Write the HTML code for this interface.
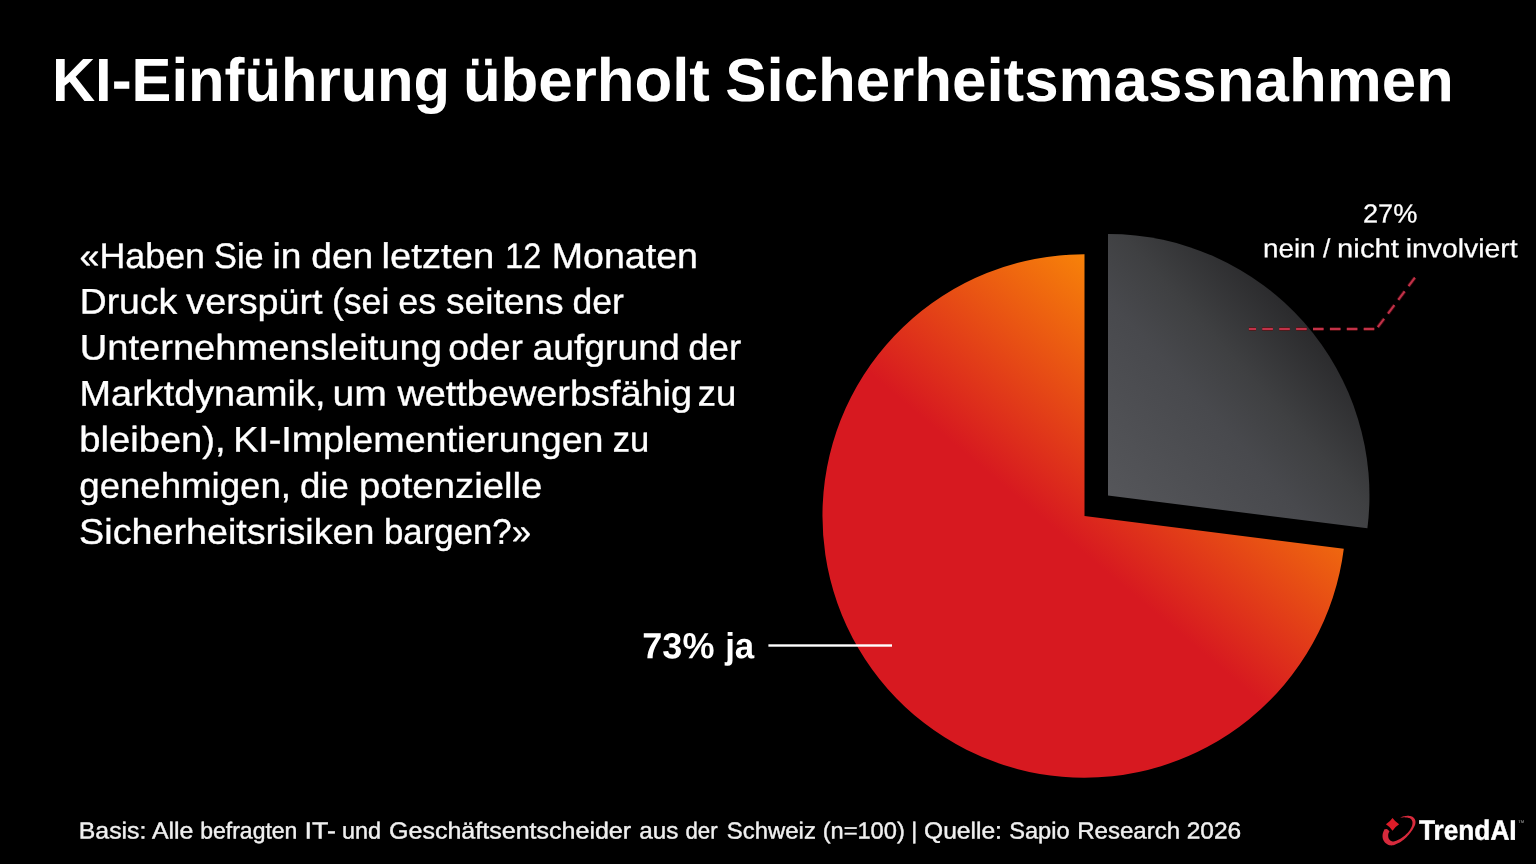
<!DOCTYPE html>
<html lang="de">
<head>
<meta charset="utf-8">
<title>KI-Einführung überholt Sicherheitsmassnahmen</title>
<style>
  html, body { margin: 0; padding: 0; background: #000; }
  body { width: 1536px; height: 864px; overflow: hidden; position: relative;
         font-family: "Liberation Sans", sans-serif; color: #fff; }
  svg { position: absolute; left: 0; top: 0; display: block; will-change: transform; }
  text { font-family: "Liberation Sans", sans-serif; fill: #fff; text-rendering: geometricPrecision; }
  .title { font-weight: bold; font-size: 61px; }
  .q { font-size: 35.5px; stroke: #fff; stroke-width: 0.35px; }
  .lbl { font-size: 26.2px; stroke: #fff; stroke-width: 0.25px; }
  .yes { font-weight: bold; font-size: 36.3px; }
  .foot { font-size: 23.2px; fill: #f0f0f0; stroke: #f0f0f0; stroke-width: 0.4px; }
  .logo { font-weight: bold; font-size: 28px; stroke: #fff; stroke-width: 0.5px; }
</style>
</head>
<body>
<svg width="1536" height="864" viewBox="0 0 1536 864">
  <defs>
    <linearGradient id="gRed" gradientUnits="userSpaceOnUse" x1="1065.9" y1="538.2" x2="1213.1" y2="362.8">
      <stop offset="0" stop-color="#d71920"/>
      <stop offset="1" stop-color="#f78209"/>
    </linearGradient>
    <linearGradient id="gGray" gradientUnits="userSpaceOnUse" x1="1108" y1="495" x2="1303.4" y2="319">
      <stop offset="0" stop-color="#55565a"/>
      <stop offset="0.5" stop-color="#48494d"/>
      <stop offset="0.7" stop-color="#3f4042"/>
      <stop offset="1" stop-color="#2a2a2c"/>
    </linearGradient>
    <filter id="soft" x="-5%" y="-20%" width="110%" height="140%"><feGaussianBlur stdDeviation="0.45"/></filter>
  </defs>
  <rect width="1536" height="864" fill="#000"/>

  <!-- red slice: 73% (from 97.2deg clockwise round to 360deg) -->
  <path d="M1084.5 516.0 L1343.8 548.8 A261.7 261.7 0 1 1 1084.5 254.3 Z" fill="url(#gRed)"/>
  <!-- gray slice: 27% -->
  <path d="M1108 495.5 L1108 234 A261.5 261.5 0 0 1 1367.4 528.3 Z" fill="url(#gGray)"/>

  <!-- 73% leader -->
  <rect x="768.4" y="644.3" width="123.6" height="2.4" fill="#fff"/>
  <!-- 27% dashed leader -->
  <g fill="none" filter="url(#soft)">
    <path d="M1374.3 329 L1248.9 329" stroke="#5a0d16" stroke-width="3.8" stroke-dasharray="10.6 6.3" opacity="0.7"/>
    <path d="M1414.9 277.7 L1376.5 328.9" stroke="#5a0d16" stroke-width="3.8" stroke-dasharray="10.6 6.5" opacity="0.7"/>
    <path d="M1374.3 329 L1248.9 329" stroke="#c2324a" stroke-width="2" stroke-dasharray="10.6 6.3"/>
    <path d="M1414.9 277.7 L1376.5 328.9" stroke="#c2324a" stroke-width="2" stroke-dasharray="10.6 6.5"/>
  </g>

  <!-- title, question, labels, footer (word-positioned) -->
  <text class="title" x="51.99" y="100.90" transform="rotate(0.03 51.99 100.90)" textLength="398.11" lengthAdjust="spacingAndGlyphs">KI-Einführung</text>
  <text class="title" x="462.92" y="100.90" transform="rotate(0.03 462.92 100.90)" textLength="246.98" lengthAdjust="spacingAndGlyphs">überholt</text>
  <text class="title" x="725.23" y="100.90" transform="rotate(0.03 725.23 100.90)" textLength="728.58" lengthAdjust="spacingAndGlyphs">Sicherheitsmassnahmen</text>
  <text class="q" x="79.60" y="268.00" transform="rotate(0.03 79.60 268.00)" textLength="125.44" lengthAdjust="spacingAndGlyphs">«Haben</text>
  <text class="q" x="214.00" y="268.00" transform="rotate(0.03 214.00 268.00)" textLength="49.63" lengthAdjust="spacingAndGlyphs">Sie</text>
  <text class="q" x="272.60" y="268.00" transform="rotate(0.03 272.60 268.00)" textLength="28.94" lengthAdjust="spacingAndGlyphs">in</text>
  <text class="q" x="311.36" y="268.00" transform="rotate(0.03 311.36 268.00)" textLength="61.77" lengthAdjust="spacingAndGlyphs">den</text>
  <text class="q" x="381.62" y="268.00" transform="rotate(0.03 381.62 268.00)" textLength="112.64" lengthAdjust="spacingAndGlyphs">letzten</text>
  <text class="q" x="505.33" y="268.00" transform="rotate(0.03 505.33 268.00)" textLength="35.99" lengthAdjust="spacingAndGlyphs">12</text>
  <text class="q" x="551.69" y="268.00" transform="rotate(0.03 551.69 268.00)" textLength="146.25" lengthAdjust="spacingAndGlyphs">Monaten</text>
  <text class="q" x="79.77" y="313.60" transform="rotate(0.03 79.77 313.60)" textLength="97.35" lengthAdjust="spacingAndGlyphs">Druck</text>
  <text class="q" x="186.37" y="313.60" transform="rotate(0.03 186.37 313.60)" textLength="136.09" lengthAdjust="spacingAndGlyphs">verspürt</text>
  <text class="q" x="332.00" y="313.60" transform="rotate(0.03 332.00 313.60)" textLength="57.28" lengthAdjust="spacingAndGlyphs">(sei</text>
  <text class="q" x="398.29" y="313.60" transform="rotate(0.03 398.29 313.60)" textLength="37.81" lengthAdjust="spacingAndGlyphs">es</text>
  <text class="q" x="446.04" y="313.60" transform="rotate(0.03 446.04 313.60)" textLength="117.51" lengthAdjust="spacingAndGlyphs">seitens</text>
  <text class="q" x="572.45" y="313.60" transform="rotate(0.03 572.45 313.60)" textLength="51.37" lengthAdjust="spacingAndGlyphs">der</text>
  <text class="q" x="79.80" y="359.40" transform="rotate(0.03 79.80 359.40)" textLength="362.02" lengthAdjust="spacingAndGlyphs">Unternehmensleitung</text>
  <text class="q" x="448.33" y="359.40" transform="rotate(0.03 448.33 359.40)" textLength="74.51" lengthAdjust="spacingAndGlyphs">oder</text>
  <text class="q" x="532.58" y="359.40" transform="rotate(0.03 532.58 359.40)" textLength="147.10" lengthAdjust="spacingAndGlyphs">aufgrund</text>
  <text class="q" x="688.19" y="359.40" transform="rotate(0.03 688.19 359.40)" textLength="53.09" lengthAdjust="spacingAndGlyphs">der</text>
  <text class="q" x="79.63" y="405.40" transform="rotate(0.03 79.63 405.40)" textLength="245.81" lengthAdjust="spacingAndGlyphs">Marktdynamik,</text>
  <text class="q" x="332.48" y="405.40" transform="rotate(0.03 332.48 405.40)" textLength="54.35" lengthAdjust="spacingAndGlyphs">um</text>
  <text class="q" x="397.48" y="405.40" transform="rotate(0.03 397.48 405.40)" textLength="294.53" lengthAdjust="spacingAndGlyphs">wettbewerbsfähig</text>
  <text class="q" x="697.69" y="405.40" transform="rotate(0.03 697.69 405.40)" textLength="38.58" lengthAdjust="spacingAndGlyphs">zu</text>
  <text class="q" x="79.30" y="451.60" transform="rotate(0.03 79.30 451.60)" textLength="146.36" lengthAdjust="spacingAndGlyphs">bleiben),</text>
  <text class="q" x="233.15" y="451.60" transform="rotate(0.03 233.15 451.60)" textLength="370.41" lengthAdjust="spacingAndGlyphs">KI-Implementierungen</text>
  <text class="q" x="612.83" y="451.60" transform="rotate(0.03 612.83 451.60)" textLength="36.52" lengthAdjust="spacingAndGlyphs">zu</text>
  <text class="q" x="79.28" y="497.70" transform="rotate(0.03 79.28 497.70)" textLength="211.71" lengthAdjust="spacingAndGlyphs">genehmigen,</text>
  <text class="q" x="300.00" y="497.70" transform="rotate(0.03 300.00 497.70)" textLength="48.88" lengthAdjust="spacingAndGlyphs">die</text>
  <text class="q" x="359.00" y="497.70" transform="rotate(0.03 359.00 497.70)" textLength="183.36" lengthAdjust="spacingAndGlyphs">potenzielle</text>
  <text class="q" x="79.11" y="543.70" transform="rotate(0.03 79.11 543.70)" textLength="295.42" lengthAdjust="spacingAndGlyphs">Sicherheitsrisiken</text>
  <text class="q" x="384.00" y="543.70" transform="rotate(0.03 384.00 543.70)" textLength="147.06" lengthAdjust="spacingAndGlyphs">bargen?»</text>
  <text class="lbl" x="1362.96" y="222.60" transform="rotate(0.03 1362.96 222.60)" textLength="54.41" lengthAdjust="spacingAndGlyphs">27%</text>
  <text class="lbl" x="1262.95" y="257.20" transform="rotate(0.03 1262.95 257.20)" textLength="52.64" lengthAdjust="spacingAndGlyphs">nein</text>
  <text class="lbl" x="1323.06" y="257.20" transform="rotate(0.03 1323.06 257.20)">/</text>
  <text class="lbl" x="1337.08" y="257.20" transform="rotate(0.03 1337.08 257.20)" textLength="61.90" lengthAdjust="spacingAndGlyphs">nicht</text>
  <text class="lbl" x="1405.67" y="257.20" transform="rotate(0.03 1405.67 257.20)" textLength="111.96" lengthAdjust="spacingAndGlyphs">involviert</text>
  <text class="yes" x="642.34" y="658.20" transform="rotate(0.03 642.34 658.20)" textLength="72.10" lengthAdjust="spacingAndGlyphs">73%</text>
  <text class="yes" x="725.17" y="658.20" transform="rotate(0.03 725.17 658.20)" textLength="29.08" lengthAdjust="spacingAndGlyphs">ja</text>
  <text class="foot" x="78.81" y="838.40" transform="rotate(0.03 78.81 838.40)" textLength="67.64" lengthAdjust="spacingAndGlyphs">Basis:</text>
  <text class="foot" x="151.93" y="838.40" transform="rotate(0.03 151.93 838.40)" textLength="41.46" lengthAdjust="spacingAndGlyphs">Alle</text>
  <text class="foot" x="200.27" y="838.40" transform="rotate(0.03 200.27 838.40)" textLength="97.13" lengthAdjust="spacingAndGlyphs">befragten</text>
  <text class="foot" x="304.58" y="838.40" transform="rotate(0.03 304.58 838.40)" textLength="31.29" lengthAdjust="spacingAndGlyphs">IT-</text>
  <text class="foot" x="342.00" y="838.40" transform="rotate(0.03 342.00 838.40)" textLength="39.11" lengthAdjust="spacingAndGlyphs">und</text>
  <text class="foot" x="389.00" y="838.40" transform="rotate(0.03 389.00 838.40)" textLength="242.15" lengthAdjust="spacingAndGlyphs">Geschäftsentscheider</text>
  <text class="foot" x="639.18" y="838.40" transform="rotate(0.03 639.18 838.40)" textLength="39.09" lengthAdjust="spacingAndGlyphs">aus</text>
  <text class="foot" x="685.52" y="838.40" transform="rotate(0.03 685.52 838.40)" textLength="32.09" lengthAdjust="spacingAndGlyphs">der</text>
  <text class="foot" x="726.87" y="838.40" transform="rotate(0.03 726.87 838.40)" textLength="89.02" lengthAdjust="spacingAndGlyphs">Schweiz</text>
  <text class="foot" x="822.66" y="838.40" transform="rotate(0.03 822.66 838.40)" textLength="82.13" lengthAdjust="spacingAndGlyphs">(n=100)</text>
  <text class="foot" x="911.24" y="838.40" transform="rotate(0.03 911.24 838.40)">|</text>
  <text class="foot" x="924.09" y="838.40" transform="rotate(0.03 924.09 838.40)" textLength="77.82" lengthAdjust="spacingAndGlyphs">Quelle:</text>
  <text class="foot" x="1009.20" y="838.40" transform="rotate(0.03 1009.20 838.40)" textLength="60.44" lengthAdjust="spacingAndGlyphs">Sapio</text>
  <text class="foot" x="1077.18" y="838.40" transform="rotate(0.03 1077.18 838.40)" textLength="103.00" lengthAdjust="spacingAndGlyphs">Research</text>
  <text class="foot" x="1186.69" y="838.40" transform="rotate(0.03 1186.69 838.40)" textLength="54.54" lengthAdjust="spacingAndGlyphs">2026</text>

  <!-- logo -->
  <g id="logo">
    <path d="M1384.40 829.37 L1384.18 829.93 L1383.85 830.69 L1383.47 831.60 L1383.11 832.58 L1382.80 833.56 L1382.62 834.46 L1382.54 835.32 L1382.52 836.20 L1382.57 837.07 L1382.68 837.93 L1382.87 838.76 L1383.12 839.55 L1383.46 840.32 L1383.88 841.07 L1384.37 841.79 L1384.92 842.47 L1385.52 843.09 L1386.18 843.62 L1386.90 844.09 L1387.69 844.52 L1388.53 844.88 L1389.42 845.16 L1390.34 845.34 L1391.27 845.40 L1392.21 845.35 L1393.19 845.18 L1394.19 844.91 L1395.23 844.56 L1396.29 844.12 L1397.37 843.62 L1398.51 843.05 L1399.71 842.38 L1400.94 841.64 L1402.16 840.82 L1403.36 839.96 L1404.50 839.04 L1405.60 838.06 L1406.69 836.99 L1407.74 835.86 L1408.76 834.71 L1409.72 833.55 L1410.61 832.43 L1411.44 831.30 L1412.24 830.15 L1412.98 828.99 L1413.64 827.87 L1414.21 826.80 L1414.68 825.81 L1415.02 824.92 L1415.27 824.10 L1415.42 823.33 L1415.50 822.61 L1415.50 821.91 L1415.44 821.23 L1415.32 820.56 L1415.12 819.90 L1414.85 819.28 L1414.52 818.69 L1414.12 818.15 L1413.66 817.67 L1413.12 817.25 L1412.51 816.87 L1411.83 816.54 L1411.11 816.27 L1410.35 816.05 L1409.59 815.89 L1408.79 815.80 L1407.93 815.79 L1407.04 815.83 L1406.16 815.92 L1405.30 816.03 L1404.50 816.14 L1403.71 816.29 L1402.92 816.49 L1402.15 816.72 L1401.45 816.94 L1400.86 817.13 L1400.43 817.26 L1400.43 817.47 L1400.99 817.45 L1401.77 817.41 L1402.69 817.38 L1403.67 817.35 L1404.64 817.36 L1405.52 817.41 L1406.34 817.50 L1407.17 817.59 L1407.98 817.71 L1408.76 817.88 L1409.47 818.12 L1410.10 818.43 L1410.65 818.83 L1411.14 819.30 L1411.58 819.83 L1411.93 820.42 L1412.21 821.06 L1412.39 821.74 L1412.47 822.47 L1412.48 823.27 L1412.40 824.11 L1412.24 824.99 L1411.98 825.90 L1411.62 826.83 L1411.16 827.80 L1410.59 828.83 L1409.92 829.88 L1409.18 830.94 L1408.39 831.97 L1407.55 832.94 L1406.65 833.87 L1405.67 834.78 L1404.63 835.67 L1403.56 836.52 L1402.49 837.31 L1401.45 838.03 L1400.40 838.69 L1399.33 839.31 L1398.26 839.87 L1397.22 840.36 L1396.24 840.77 L1395.34 841.08 L1394.52 841.29 L1393.77 841.40 L1393.08 841.43 L1392.44 841.38 L1391.83 841.26 L1391.27 841.08 L1390.73 840.82 L1390.23 840.48 L1389.77 840.06 L1389.36 839.59 L1389.01 839.08 L1388.72 838.53 L1388.50 837.94 L1388.34 837.26 L1388.23 836.55 L1388.18 835.82 L1388.17 835.12 L1388.21 834.46 L1388.34 833.83 L1388.55 833.18 L1388.82 832.55 L1389.09 831.98 L1389.33 831.51 L1389.49 831.16 L1386.94 829.12 Z" fill="#d72a3c"/>
    <path d="M1392.54 817.92 Q1395.19 821.72 1399.16 824.28 Q1395.19 826.81 1392.54 830.65 Q1389.89 826.81 1385.92 824.28 Q1389.89 821.72 1392.54 817.92 Z" fill="#de1c28"/>
    <text class="logo" x="1419.0" y="839.7" transform="rotate(0.03 1419 839.7)" textLength="97.6" lengthAdjust="spacingAndGlyphs">TrendAI</text>
    <text x="1518.3" y="823" font-size="4.2" font-weight="bold" style="fill:#7a7a7a">TM</text>
  </g>
</svg>
</body>
</html>
